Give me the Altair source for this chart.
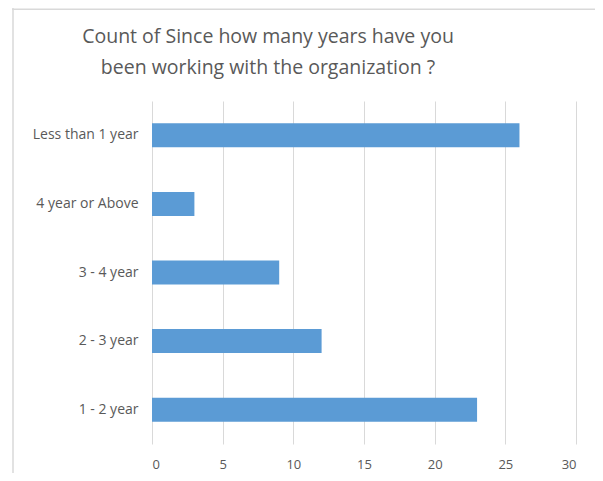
import altair as alt
import pandas as pd

categories = ["Less than 1 year", "4 year or Above", "3 - 4 year", "2 - 3 year", "1 - 2 year"]
counts = [26, 3, 9, 12, 23]

df = pd.DataFrame({"category": categories, "count": counts})

font = "Open Sans"
text_color = "#595959"
border_color = "#d9d9d9"

bars = alt.Chart(df).mark_bar(color="#5b9bd5", size=24).encode(
    x=alt.X("count:Q", scale=alt.Scale(domain=[0, 30]),
            axis=alt.Axis(values=[0, 5, 10, 15, 20, 25, 30], title=None, domain=False,
                          ticks=False, grid=True, gridColor=border_color, labelPadding=14,
                          labelFont=font, labelFontSize=13, labelColor=text_color)),
    y=alt.Y("category:N", sort=categories,
            axis=alt.Axis(title=None, domain=False, ticks=False, grid=False, labelPadding=14,
                          labelFont=font, labelFontSize=14, labelColor=text_color, labelLimit=200)),
)

frame = alt.Data(values=[{"a": 1}])
left_border = alt.Chart(frame).mark_rule(color=border_color, strokeWidth=1.5).encode(
    x=alt.value(-139), x2=alt.value(-139), y=alt.value(-95), y2=alt.value(400))
top_border = alt.Chart(frame).mark_rect(color=border_color).encode(
    x=alt.value(-140), x2=alt.value(450), y=alt.value(-92.5), y2=alt.value(-91))

chart = alt.layer(left_border, top_border, bars).properties(
    width=424, height=343,
    autosize=alt.AutoSizeParams(type="none"),
    padding={"left": 144, "top": 93, "right": 19, "bottom": 29},
    title=alt.TitleParams(
        ["Count of Since how many years have you", "been working with the organization ?"],
        anchor="middle", frame="group", dx=-96, offset=-73, font=font, fontSize=19.5,
        fontWeight="normal", color=text_color, lineHeight=31),
).configure_view(stroke=None)

chart.save("out.html", embed_options={"renderer": "svg", "actions": False})
